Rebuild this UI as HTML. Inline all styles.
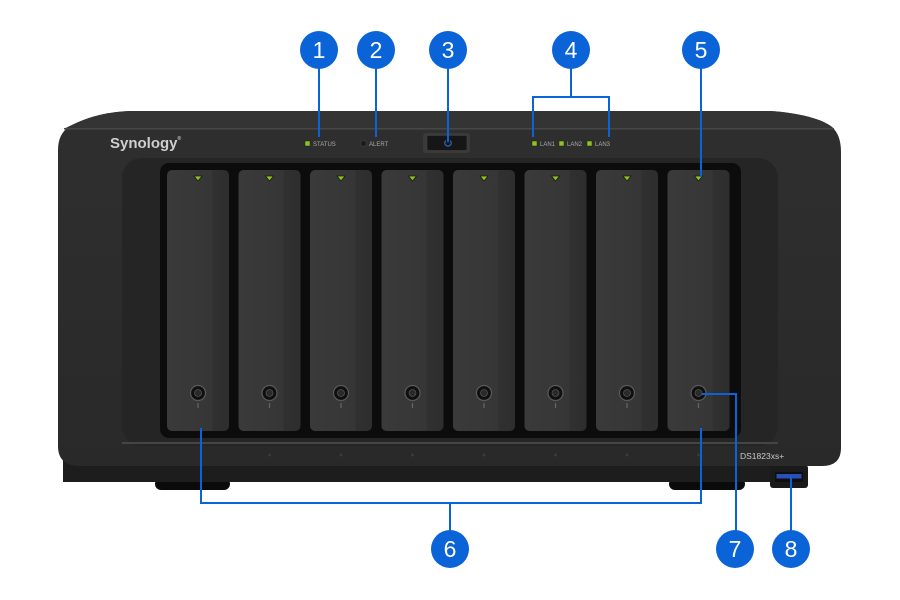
<!DOCTYPE html>
<html><head><meta charset="utf-8"><style>
html,body{margin:0;padding:0;background:#fff;}
svg{display:block;}
</style></head><body>
<svg width="900" height="600" viewBox="0 0 900 600" xmlns="http://www.w3.org/2000/svg" font-family="Liberation Sans, sans-serif">
<defs>
<linearGradient id="tray" x1="0" x2="1" y1="0" y2="0">
<stop offset="0" stop-color="#3a3a3a"/><stop offset="0.72" stop-color="#363636"/><stop offset="0.74" stop-color="#303030"/><stop offset="1" stop-color="#2e2e2e"/>
</linearGradient>
<linearGradient id="face" x1="0" x2="0" y1="0" y2="1">
<stop offset="0" stop-color="#2f2f2f"/><stop offset="1" stop-color="#292929"/>
</linearGradient>
</defs>
<rect width="900" height="600" fill="#fff"/>
<!-- feet -->
<rect x="155" y="478" width="75" height="12" rx="6" fill="#0b0b0b"/>
<rect x="669" y="478" width="76" height="12" rx="6" fill="#0b0b0b"/>
<!-- base -->
<rect x="63" y="455" width="743" height="27" fill="#1d1d1d"/>
<rect x="770" y="465" width="38" height="23" rx="3" fill="#1a1a1a"/>
<!-- chassis -->
<path d="M130,111 L770,111 C800,113 822,119 832,127 Q841,135 841,152 L841,448 Q841,466 822,466 L80,466 Q58,466 58,446 L58,150 Q58,132 72,125 C88,117 106,112 130,111 Z" fill="url(#face)"/>
<path d="M130,111 L770,111 C800,113 822,119 832,127 L834,129 L64,129 Q67,127 72,125 C88,117 106,112 130,111 Z" fill="#343434"/>
<rect x="64" y="128" width="770" height="1.5" fill="#474747"/>
<!-- recess -->
<rect x="122" y="158" width="656" height="288" rx="20" fill="#252525"/>
<rect x="122" y="442" width="656" height="2" fill="#454545"/>
<!-- slot black -->
<rect x="160" y="163" width="581" height="275" rx="9" fill="#0c0c0c"/>
<!-- trays -->
<g id="trays">
<rect x="167" y="170" width="62" height="261" rx="5" fill="url(#tray)"/>
<rect x="238.5" y="170" width="62" height="261" rx="5" fill="url(#tray)"/>
<rect x="310" y="170" width="62" height="261" rx="5" fill="url(#tray)"/>
<rect x="381.5" y="170" width="62" height="261" rx="5" fill="url(#tray)"/>
<rect x="453" y="170" width="62" height="261" rx="5" fill="url(#tray)"/>
<rect x="524.5" y="170" width="62" height="261" rx="5" fill="url(#tray)"/>
<rect x="596" y="170" width="62" height="261" rx="5" fill="url(#tray)"/>
<rect x="667.5" y="170" width="62" height="261" rx="5" fill="url(#tray)"/>
</g>
<!-- tray LEDs -->
<g fill="#8fc31f" stroke="#1a1a1a" stroke-width="0.8">
<path d="M194,176 L202,176 L198,181 Z"/>
<path d="M265.5,176 L273.5,176 L269.5,181 Z"/>
<path d="M337,176 L345,176 L341,181 Z"/>
<path d="M408.5,176 L416.5,176 L412.5,181 Z"/>
<path d="M480,176 L488,176 L484,181 Z"/>
<path d="M551.5,176 L559.5,176 L555.5,181 Z"/>
<path d="M623,176 L631,176 L627,181 Z"/>
<path d="M694.5,176 L702.5,176 L698.5,181 Z"/>
</g>
<!-- locks -->
<g>
<g transform="translate(198,393)"><circle r="7.5" fill="#101010" stroke="#5a5a5a" stroke-width="1.2"/><circle r="3.5" fill="#2a2a2a" stroke="#666" stroke-width="0.6"/><rect x="-0.6" y="10" width="1.2" height="5" fill="#666"/></g>
<g transform="translate(269.5,393)"><circle r="7.5" fill="#101010" stroke="#5a5a5a" stroke-width="1.2"/><circle r="3.5" fill="#2a2a2a" stroke="#666" stroke-width="0.6"/><rect x="-0.6" y="10" width="1.2" height="5" fill="#666"/></g>
<g transform="translate(341,393)"><circle r="7.5" fill="#101010" stroke="#5a5a5a" stroke-width="1.2"/><circle r="3.5" fill="#2a2a2a" stroke="#666" stroke-width="0.6"/><rect x="-0.6" y="10" width="1.2" height="5" fill="#666"/></g>
<g transform="translate(412.5,393)"><circle r="7.5" fill="#101010" stroke="#5a5a5a" stroke-width="1.2"/><circle r="3.5" fill="#2a2a2a" stroke="#666" stroke-width="0.6"/><rect x="-0.6" y="10" width="1.2" height="5" fill="#666"/></g>
<g transform="translate(484,393)"><circle r="7.5" fill="#101010" stroke="#5a5a5a" stroke-width="1.2"/><circle r="3.5" fill="#2a2a2a" stroke="#666" stroke-width="0.6"/><rect x="-0.6" y="10" width="1.2" height="5" fill="#666"/></g>
<g transform="translate(555.5,393)"><circle r="7.5" fill="#101010" stroke="#5a5a5a" stroke-width="1.2"/><circle r="3.5" fill="#2a2a2a" stroke="#666" stroke-width="0.6"/><rect x="-0.6" y="10" width="1.2" height="5" fill="#666"/></g>
<g transform="translate(627,393)"><circle r="7.5" fill="#101010" stroke="#5a5a5a" stroke-width="1.2"/><circle r="3.5" fill="#2a2a2a" stroke="#666" stroke-width="0.6"/><rect x="-0.6" y="10" width="1.2" height="5" fill="#666"/></g>
<g transform="translate(698.5,393)"><circle r="7.5" fill="#101010" stroke="#5a5a5a" stroke-width="1.2"/><circle r="3.5" fill="#2a2a2a" stroke="#666" stroke-width="0.6"/><rect x="-0.6" y="10" width="1.2" height="5" fill="#666"/></g>
</g>
<!-- small dots under trays -->
<g fill="#3a3a3a">
<circle cx="269.5" cy="455" r="1.5"/><circle cx="341" cy="455" r="1.5"/><circle cx="412.5" cy="455" r="1.5"/><circle cx="484" cy="455" r="1.5"/><circle cx="555.5" cy="455" r="1.5"/><circle cx="627" cy="455" r="1.5"/><circle cx="698.5" cy="455" r="1.5"/>
</g>
<!-- logo and LEDs -->
<text x="110" y="148" font-size="15" font-weight="bold" fill="#cfcfcf">Synology<tspan font-size="5" dy="-8">®</tspan></text>
<rect x="305" y="141" width="5" height="5" fill="#8fc31f" stroke="#222" stroke-width="0.5"/>
<text x="313" y="146" font-size="6" fill="#aaa">STATUS</text>
<rect x="361" y="141" width="5" height="5" fill="#1a1a1a" stroke="#444" stroke-width="0.5"/>
<text x="369" y="146" font-size="6" fill="#aaa">ALERT</text>
<rect x="532" y="141" width="5" height="5" fill="#8fc31f" stroke="#222" stroke-width="0.5"/>
<text x="540" y="146" font-size="6" fill="#aaa">LAN1</text>
<rect x="559" y="141" width="5" height="5" fill="#8fc31f" stroke="#222" stroke-width="0.5"/>
<text x="567" y="146" font-size="6" fill="#aaa">LAN2</text>
<rect x="587" y="141" width="5" height="5" fill="#8fc31f" stroke="#222" stroke-width="0.5"/>
<text x="595" y="146" font-size="6" fill="#aaa">LAN3</text>
<!-- power button -->
<rect x="423" y="133" width="47" height="20" rx="3" fill="#3a3a3a"/>
<rect x="427" y="135.5" width="40" height="15" rx="2" fill="#161616" stroke="#444" stroke-width="0.6"/>
<path d="M446,140.5 A3.2,3.2 0 1 0 450,140.5" fill="none" stroke="#2a6fd8" stroke-width="1.1"/>
<line x1="448" y1="138.5" x2="448" y2="142.5" stroke="#2a6fd8" stroke-width="1.1"/>
<!-- model & USB -->
<text x="740" y="459" font-size="8.5" fill="#c8c8c8">DS1823xs+</text>
<rect x="775" y="472" width="28" height="10" rx="1.5" fill="#0e0e0e"/>
<rect x="776.5" y="474" width="25" height="4.5" fill="#2b4fb8"/>
<!-- callout lines -->
<g stroke="#0a64d8" stroke-width="2" fill="none">
<line x1="319" y1="60" x2="319" y2="137"/>
<line x1="376" y1="60" x2="376" y2="137"/>
<line x1="448" y1="60" x2="448" y2="141"/>
<polyline points="533,137 533,97 609,97 609,137"/>
<line x1="571" y1="60" x2="571" y2="97"/>
<line x1="701" y1="60" x2="701" y2="177"/>
<polyline points="201,428 201,503 701,503 701,428"/>
<line x1="450" y1="503" x2="450" y2="540"/>
<polyline points="702,394 736,394 736,540"/>
<line x1="791" y1="476" x2="791" y2="540"/>
</g>
<!-- callout circles -->
<g fill="#0a64d8">
<circle cx="319" cy="50" r="19"/><circle cx="376" cy="50" r="19"/><circle cx="448" cy="50" r="19"/><circle cx="571" cy="50" r="19"/><circle cx="701" cy="50" r="19"/>
<circle cx="450" cy="549" r="19"/><circle cx="735" cy="549" r="19"/><circle cx="791" cy="549" r="19"/>
</g>
<g fill="#fff" font-size="23" text-anchor="middle">
<text x="319" y="58">1</text><text x="376" y="58">2</text><text x="448" y="58">3</text><text x="571" y="58">4</text><text x="701" y="58">5</text>
<text x="450" y="557">6</text><text x="735" y="557">7</text><text x="791" y="557">8</text>
</g>
</svg>
</body></html>
